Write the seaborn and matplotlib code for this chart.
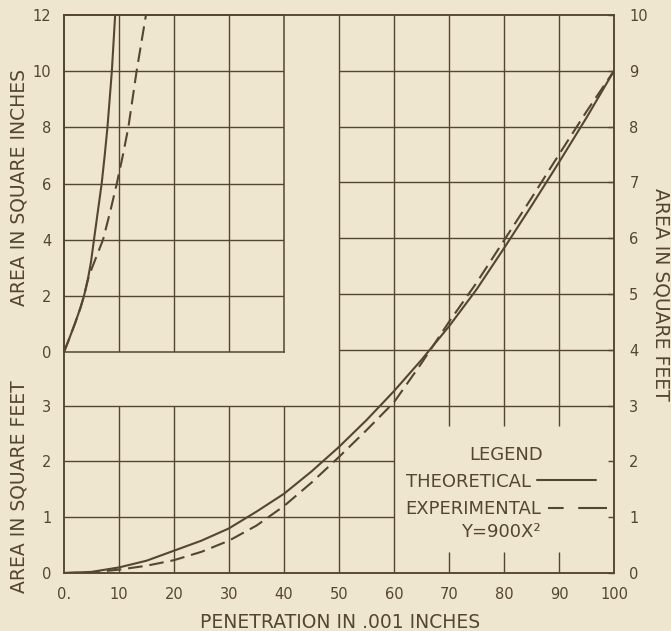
import matplotlib
matplotlib.use("Agg")
import matplotlib.pyplot as plt
from matplotlib.lines import Line2D
import seaborn as sns

# colours of the old printed chart
paper = "#efe6cf"
ink = "#554632"

# main chart: penetration (.001 in) vs area in square feet
penetration = [0, 5, 10, 15, 20, 25, 30, 35, 40, 45, 50,
               55, 60, 65, 70, 75, 80, 85, 90, 95, 100]
theoretical_sqft = [0, 0.02, 0.1, 0.22, 0.4, 0.58, 0.8, 1.1, 1.42, 1.82, 2.26,
                    2.74, 3.26, 3.82, 4.42, 5.08, 5.82, 6.58, 7.36, 8.16, 9.0]
experimental_sqft = [0, 0.01, 0.06, 0.13, 0.23, 0.38, 0.58, 0.85, 1.2, 1.62, 2.08,
                     2.56, 3.06, 3.76, 4.5, 5.2, 5.96, 6.72, 7.5, 8.27, 9.0]

# inset: first part of the curves in square inches
inset_pen_theo = [0, 1, 2, 3, 3.64, 4.3, 4.9, 5.45, 6.15, 6.85, 7.4, 7.9, 8.3, 8.7, 9.0, 9.3]
inset_theo_sqin = [0, 0.5, 1.02, 1.58, 2.0, 2.55, 3.2, 4, 5, 6, 7, 8, 9, 10, 11, 12]
inset_pen_exp = [0, 1, 2, 3, 3.64, 4.3, 5.0, 5.9, 7.1, 8.4, 9.6, 10.7, 11.7, 12.45, 13.2, 14.05, 14.9]
inset_exp_sqin = [0, 0.5, 1.02, 1.58, 2.0, 2.55, 2.95, 3.4, 4, 5, 6, 7, 8, 9, 10, 11, 12]

x_ticks = [0, 10, 20, 30, 40, 50, 60, 70, 80, 90, 100]
x_tick_labels = ["0.", "10", "20", "30", "40", "50", "60", "70", "80", "90", "100"]
left_ticks_sqft = [0, 1, 2, 3]
inset_ticks_sqin = [0, 2, 4, 6, 8, 10, 12]
right_ticks_sqft = list(range(11))

sns.set_theme(style="white", rc={
    "axes.facecolor": paper,
    "figure.facecolor": paper,
    "axes.edgecolor": ink,
    "axes.linewidth": 1.1,
    "text.color": ink,
    "xtick.color": ink,
    "ytick.color": ink,
})
plt.rcParams["font.family"] = ["DejaVu Sans"]

tick_size = 10.5
label_size = 13.5
curve_lw = 1.5
dash = (0, (7.0, 3.3))
grid_kw = dict(color=ink, linewidth=1.0, zorder=1)

fig = plt.figure(figsize=(6.71, 6.31), dpi=100)
ax = fig.add_axes([64 / 671, 58 / 631, 550 / 671, 558 / 631])
ax.set_xlim(0, 100)
ax.set_ylim(0, 10)

# grid of the lower part, broken where the inset and the legend sit
ax.hlines([1, 2], 0, 60, **grid_kw)
ax.hlines(3, 0, 100, **grid_kw)
ax.hlines([4, 5, 6, 7, 8, 9], 50, 100, **grid_kw)
ax.vlines([10, 20, 30, 40], 0, 3, **grid_kw)
ax.vlines([50, 60], 0, 10, **grid_kw)
ax.vlines([70, 80, 90], 2.63, 10, **grid_kw)
ax.vlines([70, 80, 90], 0, 0.38, **grid_kw)

sns.lineplot(x=penetration, y=theoretical_sqft, ax=ax, color=ink, linewidth=curve_lw, zorder=3)
sns.lineplot(x=penetration, y=experimental_sqft, ax=ax, color=ink, linewidth=curve_lw,
             linestyle=dash, zorder=3)

ax.set_xticks(x_ticks)
ax.set_xticklabels(x_tick_labels)
ax.set_yticks(left_ticks_sqft)
ax.set_yticklabels([str(v) for v in left_ticks_sqft])
ax.tick_params(axis="both", length=0, labelsize=tick_size)
ax.tick_params(axis="x", pad=10)
ax.tick_params(axis="y", pad=9)
ax.set_xlabel("")
ax.set_ylabel("")

# right hand scale in square feet
ax2 = ax.twinx()
ax2.set_ylim(0, 10)
ax2.set_yticks(right_ticks_sqft)
ax2.set_yticklabels([str(v) for v in right_ticks_sqft])
ax2.tick_params(axis="y", direction="in", length=4, width=1.0, pad=11, labelsize=tick_size)
ax2.grid(False)

# inset in square inches
axi = ax.inset_axes([0, 0.396, 0.4, 0.604])
axi.set_xlim(0, 40)
axi.set_ylim(0, 12)
axi.patch.set_alpha(0)
axi.vlines([10, 20, 30], 0, 12, **grid_kw)
axi.hlines([2, 4, 6, 8, 10], 0, 40, **grid_kw)
sns.lineplot(x=inset_pen_theo, y=inset_theo_sqin, ax=axi, color=ink, linewidth=curve_lw, zorder=3)
sns.lineplot(x=inset_pen_exp, y=inset_exp_sqin, ax=axi, color=ink, linewidth=curve_lw,
             linestyle=dash, zorder=3)
axi.set_xticks([])
axi.set_yticks(inset_ticks_sqin)
axi.set_yticklabels([str(v) for v in inset_ticks_sqin])
axi.tick_params(axis="y", length=0, pad=9, labelsize=tick_size)
axi.set_xlabel("")
axi.set_ylabel("")

# legend block: text first, line sample after it
handles = [Line2D([], [], color=ink, linewidth=curve_lw),
           Line2D([], [], color=ink, linewidth=curve_lw, linestyle=(0, (7.5, 7, 16, 10)))]
leg = ax.legend(handles, ["THEORETICAL", "EXPERIMENTAL"], markerfirst=False,
                title="LEGEND", frameon=False, loc="upper left",
                bbox_to_anchor=(0.621, 0.228), borderpad=0, borderaxespad=0,
                handlelength=3.3, handletextpad=0.35, labelspacing=0.5,
                fontsize=13, title_fontsize=13)
for col in leg._legend_handle_box.get_children():
    col.align = "left"
for t in leg.get_texts():
    t.set_color(ink)
leg.get_title().set_color(ink)
ax.text(79.5, 0.74, "Y=900X²", ha="center", va="center", fontsize=13, color=ink)

# axis titles
fig.text(340 / 671, 1 - 622 / 631, "PENETRATION IN .001 INCHES",
         ha="center", va="center", fontsize=label_size)
fig.text(19 / 671, 1 - 187 / 631, "AREA IN SQUARE INCHES", rotation=90,
         ha="center", va="center", fontsize=label_size)
fig.text(19 / 671, 1 - 487 / 631, "AREA IN SQUARE FEET", rotation=90,
         ha="center", va="center", fontsize=label_size)
fig.text(661 / 671, 1 - 294 / 631, "AREA IN SQUARE FEET", rotation=270,
         ha="center", va="center", fontsize=label_size)

fig.savefig("out.png", dpi=100, facecolor=paper)
